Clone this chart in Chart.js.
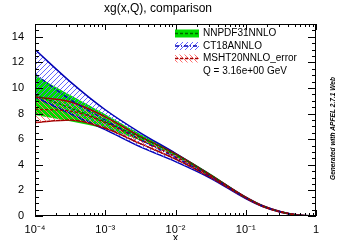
<!DOCTYPE html>
<html>
<head>
<meta charset="utf-8">
<script src="https://cdn.jsdelivr.net/npm/chart.js@4"></script>
<style>
  html, body { margin: 0; padding: 0; background: #fff; }
  #wrap { width: 354px; height: 240px; }
</style>
</head>
<body>
<div id="wrap"><canvas id="pdfChart" width="354" height="240"></canvas></div>
<script>
// x grid (log spaced) and the curves
const xValues = [1e-4, 3.16e-4, 1e-3, 3.16e-3, 1e-2, 3.16e-2, 0.1, 0.178, 0.316, 0.562, 1];

const nnpdfUpper   = [11.0, 9.45, 7.95, 6.4, 4.95, 3.3, 1.5, 0.8, 0.34, 0.08, 0.0];
const nnpdfCentral = [9.45, 8.45, 7.35, 6.15, 4.8, 3.18, 1.45, 0.76, 0.32, 0.07, 0.0];
const nnpdfLower   = [7.9, 7.4, 6.8, 5.9, 4.65, 3.06, 1.4, 0.72, 0.3, 0.06, 0.0];

const ct18Upper   = [13.0, 10.5, 8.3, 6.5, 4.9, 3.2, 1.47, 0.78, 0.34, 0.08, 0.0];
const ct18Central = [11.1, 9.1, 7.5, 5.95, 4.58, 3.08, 1.42, 0.75, 0.32, 0.07, 0.0];
const ct18Lower   = [9.3, 8.0, 6.75, 5.4, 4.25, 2.95, 1.36, 0.71, 0.3, 0.06, 0.0];

const mshtUpper   = [9.3, 8.92, 7.75, 6.2, 4.85, 3.2, 1.47, 0.78, 0.33, 0.07, 0.0];
const mshtCentral = [8.33, 8.2, 7.3, 5.95, 4.65, 3.12, 1.44, 0.75, 0.32, 0.07, 0.0];
const mshtLower   = [7.3, 7.5, 6.85, 5.65, 4.45, 3.02, 1.4, 0.72, 0.3, 0.06, 0.0];

const seriesNames = ["NNPDF31NNLO", "CT18ANNLO", "MSHT20NNLO_error"];
const yTicks = [0, 2, 4, 6, 8, 10, 12, 14];
const xTicks = [1e-4, 1e-3, 1e-2, 1e-1, 1];
const xTickLabels = ["10\u207B\u2074", "10\u207B\u00B3", "10\u207B\u00B2", "10\u207B\u00B9", "1"];
const qLabel = "Q = 3.16e+00 GeV";

const FONT = "'Liberation Sans', Arial, sans-serif";
const GREEN = "#00dd00";
const DKGREEN = "#006400";
const BLUE = "#0000b4";
const DKRED = "#a00000";

// diagonal hatch, one line per tile
function hatch(color, dir) {
    const s = 5;
    const c = document.createElement("canvas");
    c.width = s;
    c.height = s;
    const g = c.getContext("2d");
    g.strokeStyle = color;
    g.lineWidth = 1;
    g.beginPath();
    if (dir > 0) {
        g.moveTo(0, s); g.lineTo(s, 0);
        g.moveTo(-1, 1); g.lineTo(1, -1);
        g.moveTo(s - 1, s + 1); g.lineTo(s + 1, s - 1);
    } else {
        g.moveTo(0, 0); g.lineTo(s, s);
        g.moveTo(-1, s - 1); g.lineTo(1, s + 1);
        g.moveTo(s - 1, -1); g.lineTo(s + 1, 1);
    }
    g.stroke();
    return g.createPattern(c, "repeat");
}

const blueHatch = hatch("rgb(100,100,255)", 1);
const redHatch = hatch("rgb(255,110,110)", -1);

function pts(arr) {
    return arr.map((y, i) => ({ x: xValues[i], y: y }));
}

function band(label, data, fillTo, bg, border, order) {
    return {
        label: label,
        data: pts(data),
        fill: fillTo === null ? false : fillTo,
        backgroundColor: bg,
        borderColor: border,
        borderWidth: border ? 1.5 : 0,
        pointRadius: 0,
        tension: 0.4,
        cubicInterpolationMode: "monotone",
        order: order,
    };
}

function central(label, data, color, dash, order) {
    return {
        label: label,
        data: pts(data),
        fill: false,
        borderColor: color,
        borderWidth: 1.3,
        borderDash: dash,
        pointRadius: 0,
        tension: 0.4,
        cubicInterpolationMode: "monotone",
        order: order,
    };
}

// frame, inside ticks, legend and side note
const rootStyle = {
    id: "rootStyle",
    afterDraw(chart) {
        const ctx = chart.ctx;
        const a = chart.chartArea;
        const xs = chart.scales.x;
        const ys = chart.scales.y;
        ctx.save();
        ctx.strokeStyle = "#000";
        ctx.lineWidth = 1;
        ctx.strokeRect(a.left + 0.5, a.top + 0.5, a.right - a.left - 1, a.bottom - a.top - 1);

        ctx.beginPath();
        // x ticks
        for (let d = -4; d <= 0; d++) {
            for (let m = 1; m <= 9; m++) {
                const v = m * Math.pow(10, d);
                if (v > 1) break;
                const px = Math.round(xs.getPixelForValue(v)) + 0.5;
                const len = m === 1 ? 6 : 3;
                ctx.moveTo(px, a.bottom); ctx.lineTo(px, a.bottom - len);
                ctx.moveTo(px, a.top); ctx.lineTo(px, a.top + len);
            }
        }
        // y ticks
        for (let v = 0; v <= 15; v += 0.5) {
            const py = Math.round(ys.getPixelForValue(v)) + 0.5;
            const len = v % 2 === 0 ? 8 : 4;
            ctx.moveTo(a.left, py); ctx.lineTo(a.left + len, py);
            ctx.moveTo(a.right, py); ctx.lineTo(a.right - len, py);
        }
        ctx.stroke();

        // legend
        const rows = [33.5, 46, 58.5];
        const bx = 175, bw = 24, bh = 8;
        const fills = [GREEN, blueHatch, redHatch];
        const lines = [[DKGREEN, [3, 2]], [BLUE, [4, 2, 1, 2]], [DKRED, [3, 2]]];
        ctx.font = "10px " + FONT;
        ctx.textBaseline = "middle";
        rows.forEach((cy, i) => {
            ctx.fillStyle = fills[i];
            ctx.fillRect(bx, cy - bh / 2, bw, bh);
            ctx.strokeStyle = lines[i][0];
            ctx.setLineDash(lines[i][1]);
            ctx.lineWidth = 1.3;
            ctx.beginPath();
            ctx.moveTo(bx, cy);
            ctx.lineTo(bx + bw, cy);
            ctx.stroke();
            ctx.setLineDash([]);
            ctx.fillStyle = "#000";
            ctx.fillText(seriesNames[i], 203, cy);
        });
        ctx.fillText(qLabel, 203, 71);

        // side note
        const note = "Generated with APFEL 2.7.1 Web";
        let size = 7;
        ctx.font = "italic bold " + size + "px " + FONT;
        size = size * 103 / ctx.measureText(note).width;
        ctx.font = "italic bold " + size.toFixed(2) + "px " + FONT;
        ctx.translate(333.5, 128.5);
        ctx.rotate(-Math.PI / 2);
        ctx.textAlign = "center";
        ctx.fillText(note, 0, 0);
        ctx.restore();
    },
};

new Chart(document.getElementById("pdfChart"), {
    type: "line",
    data: {
        datasets: [
            band(seriesNames[0], nnpdfUpper, 1, GREEN, null, 10),
            band(seriesNames[0], nnpdfLower, null, GREEN, null, 10),
            band(seriesNames[1], ct18Upper, 3, blueHatch, BLUE, 8),
            band(seriesNames[1], ct18Lower, null, blueHatch, BLUE, 8),
            band(seriesNames[2], mshtUpper, 5, redHatch, DKRED, 6),
            band(seriesNames[2], mshtLower, null, redHatch, DKRED, 6),
            central(seriesNames[0], nnpdfCentral, DKGREEN, [3, 2], 3),
            central(seriesNames[1], ct18Central, BLUE, [4, 2, 1, 2], 2),
            central(seriesNames[2], mshtCentral, DKRED, [3, 2], 1),
        ],
    },
    plugins: [rootStyle],
    options: {
        responsive: false,
        animation: false,
        layout: {
            padding: { top: 0, right: 38, bottom: 0, left: 0 },
        },
        scales: {
            x: {
                type: "logarithmic",
                min: 1e-4,
                max: 1,
                grid: { display: false },
                border: { display: false },
                afterBuildTicks: (axis) => {
                    axis.ticks = xTicks.map((v) => ({ value: v, major: true }));
                },
                afterFit: (axis) => {
                    axis.height = 24;
                },
                ticks: {
                    autoSkip: false,
                    maxRotation: 0,
                    padding: -1,
                    color: "#000",
                    font: { size: 11, family: FONT },
                    callback: (value) => xTickLabels[xTicks.indexOf(value)],
                },
                title: {
                    display: true,
                    text: "x",
                    color: "#000",
                    padding: { top: 0, bottom: -3 },
                    font: { size: 11, family: FONT, lineHeight: 1 },
                },
            },
            y: {
                min: 0,
                max: 15,
                grid: { display: false },
                border: { display: false },
                afterBuildTicks: (axis) => {
                    axis.ticks = yTicks.map((v) => ({ value: v }));
                },
                afterFit: (axis) => {
                    axis.width = 35;
                },
                ticks: {
                    padding: 3,
                    color: "#000",
                    font: { size: 11, family: FONT },
                },
            },
        },
        plugins: {
            legend: { display: false },
            tooltip: { enabled: false },
            title: {
                display: true,
                text: "xg(x,Q), comparison",
                color: "#000",
                font: { size: 12, family: FONT, weight: "normal" },
                padding: { top: 1.5, bottom: 8.1 },
            },
        },
    },
});
</script>
</body>
</html>
